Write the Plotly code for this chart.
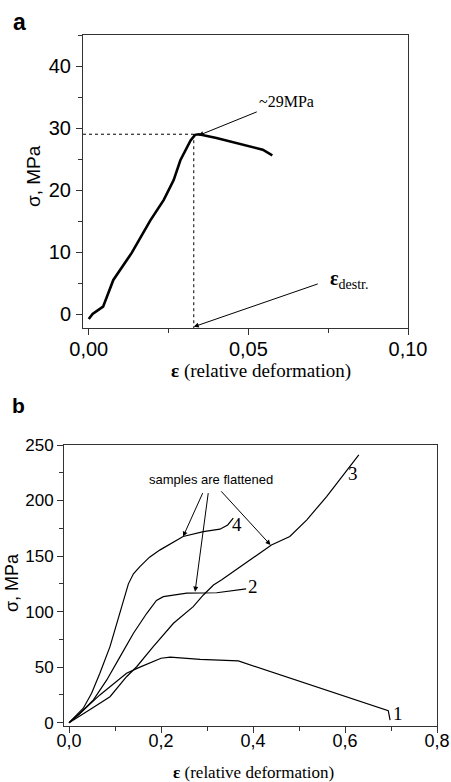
import plotly.graph_objects as go

# ---------------- Panel a data ----------------
a_strain = [0.0, 0.0012, 0.0045, 0.0077, 0.0135, 0.0193, 0.0235, 0.0266, 0.0287,
            0.0319, 0.0333, 0.0345, 0.0400, 0.0455, 0.0510, 0.0545, 0.0575]
a_stress = [-0.8, 0.0, 1.2, 5.5, 9.9, 15.1, 18.4, 21.6, 24.8,
            28.0, 28.9, 29.0, 28.4, 27.7, 27.0, 26.5, 25.6]
a_peak_strain = 0.0329
a_peak_stress = 29.0
a_x_ticks = [0.0, 0.05, 0.10]
a_y_ticks = [0, 10, 20, 30, 40]

# ---------------- Panel b data ----------------
c1_strain = [0.0, 0.024, 0.067, 0.125, 0.154, 0.200, 0.220, 0.285, 0.368, 0.694, 0.698]
c1_stress = [0.0, 8.5, 25.0, 44.5, 50.0, 58.0, 59.0, 57.0, 55.6, 10.8, 2.4]

c2_strain = [0.0, 0.024, 0.053, 0.082, 0.111, 0.140, 0.169, 0.190, 0.205, 0.256, 0.321, 0.385]
c2_stress = [0.0, 8.5, 20.5, 38.5, 59.5, 80.5, 98.5, 110.0, 113.5, 116.6, 117.0, 120.4]

c3_strain = [0.0, 0.024, 0.050, 0.089, 0.125, 0.147, 0.183, 0.227, 0.270, 0.292, 0.314,
             0.332, 0.372, 0.440, 0.480, 0.517, 0.560, 0.604, 0.630]
c3_stress = [0.0, 6.0, 13.0, 23.4, 41.4, 50.4, 68.5, 89.5, 104.5, 115.0, 124.0,
             128.6, 140.5, 160.0, 167.6, 182.6, 203.6, 227.7, 241.2]

c4_strain = [0.0, 0.031, 0.049, 0.067, 0.089, 0.111, 0.129, 0.140, 0.154, 0.175, 0.198,
             0.248, 0.292, 0.328, 0.345, 0.357]
c4_stress = [0.0, 13.0, 26.5, 44.5, 68.5, 98.5, 125.0, 134.0, 140.5, 149.0, 155.6,
             167.6, 172.0, 174.2, 178.0, 184.1]

curve_labels = ["1", "2", "3", "4"]
label_pos_x = [0.716, 0.401, 0.617, 0.365]
label_pos_y = [8.7, 122.5, 224.7, 178.0]

b_x_ticks = [0.0, 0.2, 0.4, 0.6, 0.8]
b_y_ticks = [0, 50, 100, 150, 200, 250]

AX = "#333333"
SANS = "Liberation Sans, Arial, sans-serif"
SERIF = "Liberation Serif, Times New Roman, serif"

fig = go.Figure()

fig.add_trace(go.Scatter(x=a_strain, y=a_stress, mode="lines",
                         line=dict(color="black", width=2.6),
                         xaxis="x", yaxis="y", showlegend=False))

for xs, ys in [(c1_strain, c1_stress), (c2_strain, c2_stress),
               (c3_strain, c3_stress), (c4_strain, c4_stress)]:
    fig.add_trace(go.Scatter(x=xs, y=ys, mode="lines",
                             line=dict(color="black", width=1.2),
                             xaxis="x2", yaxis="y2", showlegend=False))

axis_common = dict(showline=True, mirror=True, linecolor=AX, linewidth=1,
                   ticks="outside", ticklen=6, tickcolor=AX, tickwidth=1,
                   showgrid=False, zeroline=False, automargin=False)

a_xrange = [-0.0018, 0.1]
a_yrange = [-2.25, 45]

fig.update_layout(
    width=451, height=782, autosize=False,
    margin=dict(l=0, r=0, t=0, b=0, pad=0, autoexpand=False),
    paper_bgcolor="white", plot_bgcolor="white",
    showlegend=False,
    separators=", ",
    xaxis=dict(domain=[83/451, 408/451], anchor="y", range=a_xrange,
               tickvals=a_x_ticks, tickformat=".2f", ticklabelstandoff=-3,
               minor=dict(ticks="outside", ticklen=4, tickcolor=AX, dtick=0.025, tick0=0),
               tickfont=dict(family=SANS, size=20, color="black"), **axis_common),
    yaxis=dict(domain=[1-328/782, 1-35/782], anchor="x", range=a_yrange,
               tickvals=a_y_ticks, ticklabelstandoff=1,
               minor=dict(ticks="outside", ticklen=4, tickcolor=AX, dtick=5, tick0=0),
               tickfont=dict(family=SANS, size=20, color="black"), **axis_common),
    xaxis2=dict(domain=[64/451, 437/451], anchor="y2", range=[-0.011, 0.8],
                tickvals=b_x_ticks, tickformat=".1f", ticklabelstandoff=-7,
                minor=dict(ticks="outside", ticklen=4, tickcolor=AX, dtick=0.1, tick0=0),
                tickfont=dict(family=SANS, size=18, color="black"), **axis_common),
    yaxis2=dict(domain=[1-725.7/782, 1-445/782], anchor="x2", range=[-2.7, 250],
                tickvals=b_y_ticks,
                minor=dict(ticks="outside", ticklen=4, tickcolor=AX, dtick=25, tick0=0),
                tickfont=dict(family=SANS, size=17, color="black"), **axis_common),
)

# dotted guide lines, panel a
fig.add_shape(type="line", xref="x", yref="y", x0=a_xrange[0], x1=a_peak_strain,
              y0=a_peak_stress, y1=a_peak_stress, line=dict(color="black", width=1, dash="dot"))
fig.add_shape(type="line", xref="x", yref="y", x0=a_peak_strain, x1=a_peak_strain,
              y0=a_peak_stress, y1=a_yrange[0], line=dict(color="black", width=1, dash="dot"))

def paper_text(text, px, py, font, angle=0):
    return dict(text=text, x=px/451, y=1-py/782, xref="paper", yref="paper",
                xanchor="center", yanchor="middle", showarrow=False,
                textangle=angle, font=font)

ann = []
# panel letters
ann.append(paper_text("<b>a</b>", 19, 21.7, dict(family=SANS, size=23, color="black")))
ann.append(paper_text("<b>b</b>", 18, 405, dict(family=SANS, size=21, color="black")))
# axis titles
ann.append(paper_text("<b>ε</b> (relative deformation)", 261, 371,
                      dict(family=SERIF, size=19, color="black")))
ann.append(paper_text("σ, MPa", 33, 176, dict(family=SANS, size=19, color="black"), -90))
ann.append(paper_text("<b>ε</b> (relative deformation)", 253.5, 772.5,
                      dict(family=SERIF, size=17, color="black")))
ann.append(paper_text("σ, MPa", 12, 583, dict(family=SANS, size=18, color="black"), -90))

# panel a annotations
ann.append(dict(x=0.0344, y=28.8, ax=0.0531, ay=32.7, xref="x", yref="y", axref="x", ayref="y",
                showarrow=True, arrowhead=2, arrowsize=1, arrowwidth=1, arrowcolor="black", text=""))
ann.append(dict(text="~29MPa", x=0.0620, y=34.3, xref="x", yref="y", showarrow=False,
                font=dict(family=SERIF, size=16, color="black")))
ann.append(dict(x=a_peak_strain, y=-2.05, ax=0.0722, ay=4.94, xref="x", yref="y", axref="x", ayref="y",
                showarrow=True, arrowhead=2, arrowsize=1, arrowwidth=1, arrowcolor="black", text=""))
ann.append(dict(text="<b>ε</b><sub>destr.</sub>", x=0.0748, y=5.6, xref="x", yref="y",
                xanchor="left", showarrow=False, font=dict(family=SERIF, size=20, color="black")))

# panel b annotations
ann.append(dict(text="samples are flattened", x=0.308, y=218.6, xref="x2", yref="y2",
                showarrow=False, font=dict(family=SANS, size=13, color="black")))
for (hx, hy, tx, ty) in [(0.248, 167.6, 0.292, 208.0), (0.274, 118.0, 0.303, 208.0),
                         (0.438, 160.0, 0.328, 209.6)]:
    ann.append(dict(x=hx, y=hy, ax=tx, ay=ty, xref="x2", yref="y2", axref="x2", ayref="y2",
                    showarrow=True, arrowhead=2, arrowsize=1, arrowwidth=1, arrowcolor="black", text=""))
for lab, lx, ly in zip(curve_labels, label_pos_x, label_pos_y):
    ann.append(dict(text=lab, x=lx, y=ly, xref="x2", yref="y2", showarrow=False,
                    font=dict(family=SERIF, size=19, color="black")))

fig.update_layout(annotations=ann)

fig.write_html("out.html")
